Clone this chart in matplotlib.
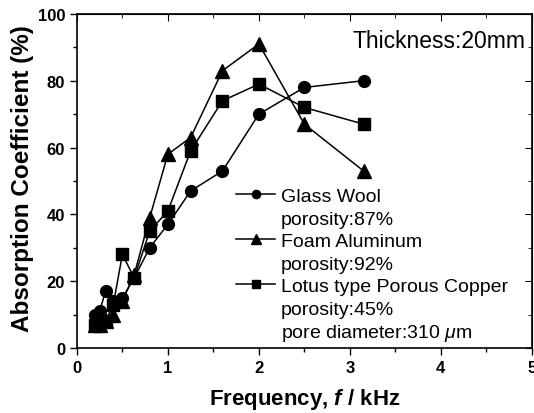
import matplotlib.pyplot as plt
from matplotlib.lines import Line2D
from matplotlib.ticker import MultipleLocator

plt.rcParams['font.family'] = ['Liberation Sans', 'DejaVu Sans']
plt.rcParams['mathtext.fontset'] = 'custom'
plt.rcParams['mathtext.it'] = 'Liberation Sans:italic'
plt.rcParams['mathtext.bfit'] = 'Liberation Sans:bold:italic'

# Frequenzen (kHz), 1/3-Oktav-Mittenfrequenzen
freq = [0.2, 0.25, 0.315, 0.4, 0.5, 0.63, 0.8, 1.0, 1.25, 1.6, 2.0, 2.5, 3.15]

# Absorptionsgrad (%)
glass_wool = [10, 11, 17, 14, 15, 21, 30, 37, 47, 53, 70, 78, 80]
foam_al = [7, 7, 8, 10, 14, 22, 39, 58, 63, 83, 91, 67, 53]
lotus_cu = [7, 8, 8, 13, 28, 21, 35, 41, 59, 74, 79, 72, 67]

fig = plt.figure(figsize=(5.34, 4.14), dpi=100)
ax = fig.add_axes([0.144, 0.157, 0.852, 0.807])

l1, = ax.plot(freq, glass_wool, 'k-o', lw=1.1, ms=8.5)
l2, = ax.plot(freq, foam_al, 'k-^', lw=1.1, ms=9.5)
l3, = ax.plot(freq, lotus_cu, 'k-s', lw=1.1, ms=8)

ax.set_xlim(0, 5)
ax.set_ylim(0, 100)
ax.xaxis.set_major_locator(MultipleLocator(1))
ax.xaxis.set_minor_locator(MultipleLocator(0.5))
ax.yaxis.set_major_locator(MultipleLocator(20))
ax.yaxis.set_minor_locator(MultipleLocator(10))
ax.tick_params(which='both', direction='out', top=False, right=False, width=1)
ax.tick_params(which='major', length=5, labelsize=12)
ax.tick_params(which='minor', length=3)
for lab in ax.get_xticklabels() + ax.get_yticklabels():
    lab.set_fontweight('bold')

# innenliegende Ticks oben und rechts
ax2 = ax.secondary_xaxis('top')
ax2.xaxis.set_major_locator(MultipleLocator(1))
ax2.xaxis.set_minor_locator(MultipleLocator(0.5))
ax2.tick_params(which='both', direction='in', labeltop=False)
ax2.tick_params(which='major', length=5)
ax2.tick_params(which='minor', length=3)
ay2 = ax.secondary_yaxis('right')
ay2.yaxis.set_major_locator(MultipleLocator(20))
ay2.yaxis.set_minor_locator(MultipleLocator(10))
ay2.tick_params(which='both', direction='in', labelright=False)
ay2.tick_params(which='major', length=5)
ay2.tick_params(which='minor', length=3)

for sp in ax.spines.values():
    sp.set_linewidth(1.2)

ax.set_xlabel('Frequency, $\\mathbfit{f}$ / kHz', fontsize=16, fontweight='bold', labelpad=8)
ax.set_ylabel('Absorption Coefficient (%)', fontsize=17.5, fontweight='bold', labelpad=2)
ax.yaxis.set_label_coords(-0.095, 0.51)

ax.text(0.985, 0.92, 'Thickness:20mm', transform=ax.transAxes,
        ha='right', va='center', fontsize=16.5)

blank = Line2D([], [], linestyle='none')
handles = [l1, blank, l2, blank, l3, blank, blank]
labels = ['Glass Wool', 'porosity:87%', 'Foam Aluminum', 'porosity:92%',
          'Lotus type Porous Copper', 'porosity:45%', 'pore diameter:310 $\\mu$m']
leg = ax.legend(handles, labels, loc='upper left', bbox_to_anchor=(0.35, 0.48),
                frameon=False, fontsize=14, handlelength=2.0, handletextpad=0.3,
                labelspacing=0.25, borderpad=0, borderaxespad=0, markerscale=0.7)

fig.savefig('out.png', dpi=100)
